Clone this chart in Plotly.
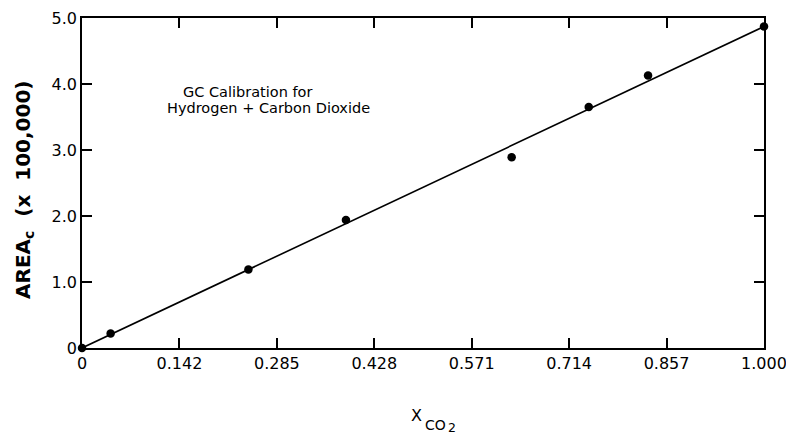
import plotly.graph_objects as go

x_co2 = [0.0, 0.042, 0.244, 0.387, 0.630, 0.743, 0.830, 1.0]
area = [0.0, 0.22, 1.19, 1.94, 2.89, 3.65, 4.13, 4.87]
fit_x = [0.0, 1.0]
fit_y = [0.0, 4.87]

x_tickvals = [k / 7 for k in range(8)]
x_ticktext = ["0", "0.142", "0.285", "0.428", "0.571", "0.714", "0.857", "1.000"]
y_tickvals = [0, 1, 2, 3, 4, 5]
y_ticktext = ["0", "1.0", "2.0", "3.0", "4.0", "5.0"]

font_family = "DejaVu Sans, Liberation Sans, sans-serif"
nb = "\u00a0"

fig = go.Figure()
fig.add_trace(go.Scatter(x=fit_x, y=fit_y, mode="lines",
                         line=dict(color="black", width=1.6),
                         cliponaxis=False, showlegend=False))
fig.add_trace(go.Scatter(x=x_co2, y=area, mode="markers",
                         marker=dict(color="black", size=8.5),
                         cliponaxis=False, showlegend=False))

axis_common = dict(showline=True, linecolor="black", linewidth=1.5, mirror="ticks",
                   ticks="inside", ticklen=10, tickwidth=1.5, tickcolor="black",
                   showgrid=False, zeroline=False, automargin=False,
                   ticklabeloverflow="allow",
                   tickfont=dict(family=font_family, size=16, color="black"))

fig.update_xaxes(range=[0, 1], tickvals=x_tickvals, ticktext=x_ticktext, **axis_common)
fig.update_yaxes(range=[0, 5], tickvals=y_tickvals, ticktext=y_ticktext, **axis_common)

# y-axis title
fig.add_annotation(text="AREA<sub>c</sub>" + nb + nb + "(x" + nb + nb + "100,000)",
                   xref="paper", yref="paper",
                   x=-0.085, y=0.479, textangle=-90, showarrow=False,
                   xanchor="center", yanchor="middle",
                   font=dict(family=font_family, size=20, color="black", weight="bold"))
# x-axis title: X with CO2 subscript
fig.add_annotation(text="X", xref="paper", yref="paper",
                   x=0.4910, y=-0.206, showarrow=False,
                   xanchor="center", yanchor="middle",
                   font=dict(family=font_family, size=16, color="black"))
fig.add_annotation(text="CO", xref="paper", yref="paper",
                   x=0.518, y=-0.234, showarrow=False,
                   xanchor="center", yanchor="middle",
                   font=dict(family=font_family, size=14, color="black"))
fig.add_annotation(text="2", xref="paper", yref="paper",
                   x=0.5425, y=-0.242, showarrow=False,
                   xanchor="center", yanchor="middle",
                   font=dict(family=font_family, size=12.5, color="black"))

# in-plot label
fig.add_annotation(text="GC Calibration for", xref="x", yref="y",
                   x=0.243, y=3.88, showarrow=False,
                   xanchor="center", yanchor="middle",
                   font=dict(family=font_family, size=14.5, color="black"))
fig.add_annotation(text="Hydrogen + Carbon Dioxide", xref="x", yref="y",
                   x=0.273, y=3.64, showarrow=False,
                   xanchor="center", yanchor="middle",
                   font=dict(family=font_family, size=14.5, color="black"))

fig.update_layout(width=786, height=435, paper_bgcolor="white", plot_bgcolor="white",
                  margin=dict(l=82, r=22, t=18, b=87))

fig.write_html("out.html")
